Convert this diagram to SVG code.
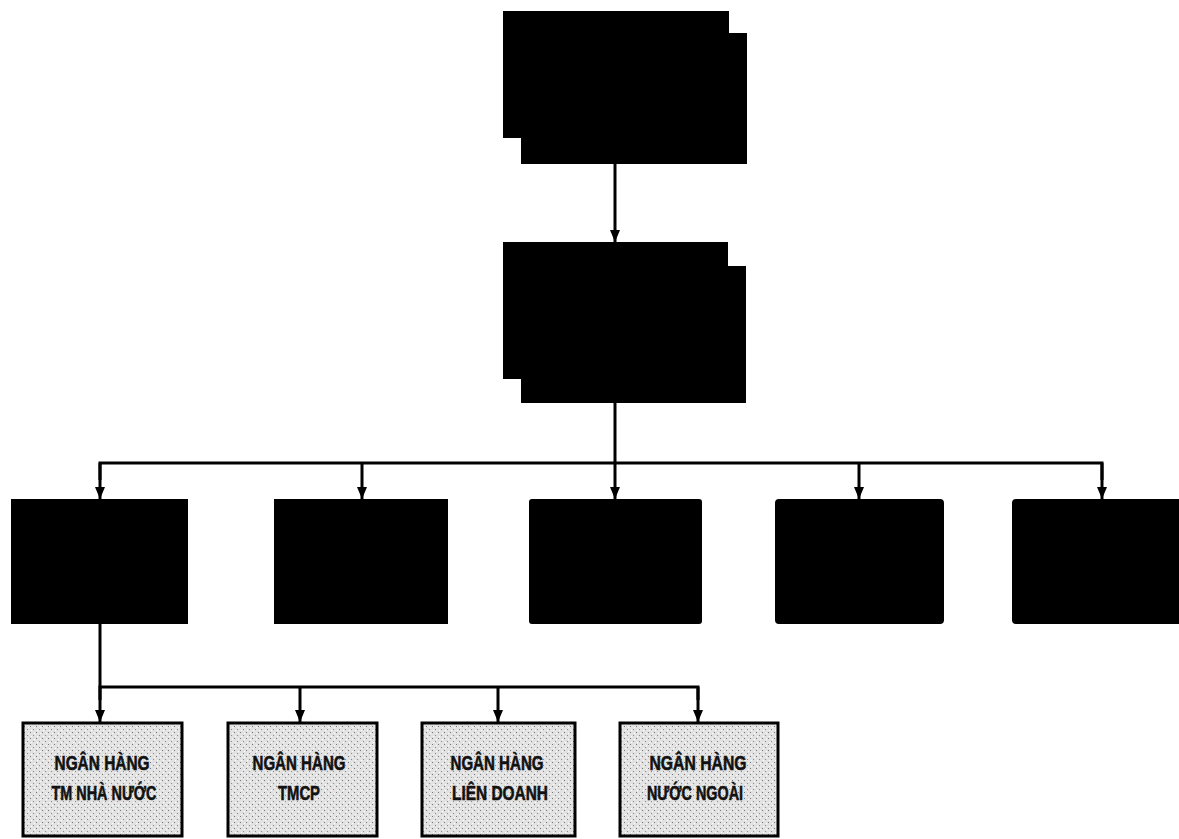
<svg xmlns="http://www.w3.org/2000/svg" width="1179" height="839" viewBox="0 0 1179 839">
<defs>
<marker id="arr" viewBox="0 0 12 10" refX="12" refY="5" markerWidth="12" markerHeight="10" markerUnits="userSpaceOnUse" orient="auto">
<path d="M0,0 L12,5 L0,10 Z" fill="#000"/>
</marker>
<pattern id="dots" width="6" height="6" patternUnits="userSpaceOnUse">
<rect width="6" height="6" fill="#e2e2e2"/>
<rect x="0" y="0" width="1" height="1" fill="#777"/>
<rect x="3" y="3" width="1" height="1" fill="#888"/>
<rect x="4" y="1" width="1" height="1" fill="#fff"/>
<rect x="1" y="4" width="1" height="1" fill="#fff"/>
</pattern>
</defs>
<style>
.blk{fill:#000;stroke:#000;stroke-width:2}
.gry{fill:url(#dots);stroke:#000;stroke-width:3}
.ln{fill:none;stroke:#000;stroke-width:3}
.lbl{font-family:"Liberation Sans",Arial,sans-serif;font-weight:bold;font-size:21px;fill:#111;text-anchor:middle;stroke:#111;stroke-width:0.6}
</style>
<rect width="1179" height="839" fill="#fff"/>
<g id="connectors">
<line class="ln" x1="615" y1="163" x2="615" y2="242" marker-end="url(#arr)"/>
<line class="ln" x1="615" y1="402" x2="615" y2="499" marker-end="url(#arr)"/>
<polyline class="ln" points="100,480 100,463 1102,463 1102,480"/>
<line class="ln" x1="100" y1="463" x2="100" y2="499" marker-end="url(#arr)"/>
<line class="ln" x1="362" y1="463" x2="362" y2="499" marker-end="url(#arr)"/>
<line class="ln" x1="859" y1="463" x2="859" y2="499" marker-end="url(#arr)"/>
<line class="ln" x1="1102" y1="463" x2="1102" y2="499" marker-end="url(#arr)"/>
<line class="ln" x1="100" y1="623" x2="100" y2="687"/>
<polyline class="ln" points="100,700 100,687 698,687 698,700"/>
<line class="ln" x1="100" y1="687" x2="100" y2="722" marker-end="url(#arr)"/>
<line class="ln" x1="300" y1="687" x2="300" y2="722" marker-end="url(#arr)"/>
<line class="ln" x1="498" y1="687" x2="498" y2="722" marker-end="url(#arr)"/>
<line class="ln" x1="698" y1="687" x2="698" y2="722" marker-end="url(#arr)"/>
</g>
<g id="node-top">
<rect class="blk" x="522" y="34" width="224" height="129"/>
<rect class="blk" x="504" y="12" width="224" height="125"/>
</g>
<g id="node-second">
<rect class="blk" x="522" y="267" width="223" height="135"/>
<rect class="blk" x="504" y="243" width="223" height="135"/>
</g>
<g id="node-r1"><rect class="blk" x="12" y="500" width="175" height="123"/></g>
<g id="node-r2"><rect class="blk" x="275" y="500" width="172" height="123"/></g>
<g id="node-r3"><rect class="blk" x="530" y="500" width="171" height="123" rx="2"/></g>
<g id="node-r4"><rect class="blk" x="776" y="500" width="167" height="123" rx="3"/></g>
<g id="node-r5"><rect class="blk" x="1013" y="500" width="170" height="123" rx="3"/></g>
<g id="node-b1">
<rect class="gry" x="23" y="723" width="159" height="113"/>
<text class="lbl" x="102" y="770" textLength="95" lengthAdjust="spacingAndGlyphs">NGÂN HÀNG</text>
<text class="lbl" x="104" y="800" textLength="105" lengthAdjust="spacingAndGlyphs">TM NHÀ NƯỚC</text>
</g>
<g id="node-b2">
<rect class="gry" x="228" y="723" width="149" height="113"/>
<text class="lbl" x="299" y="770" textLength="93" lengthAdjust="spacingAndGlyphs">NGÂN HÀNG</text>
<text class="lbl" x="299" y="800" textLength="42" lengthAdjust="spacingAndGlyphs">TMCP</text>
</g>
<g id="node-b3">
<rect class="gry" x="422" y="723" width="153" height="113"/>
<text class="lbl" x="497" y="770" textLength="93" lengthAdjust="spacingAndGlyphs">NGÂN HÀNG</text>
<text class="lbl" x="500" y="800" textLength="96" lengthAdjust="spacingAndGlyphs">LIÊN DOANH</text>
</g>
<g id="node-b4">
<rect class="gry" x="620" y="723" width="158" height="113"/>
<text class="lbl" x="698" y="770" textLength="97" lengthAdjust="spacingAndGlyphs">NGÂN HÀNG</text>
<text class="lbl" x="695" y="800" textLength="96" lengthAdjust="spacingAndGlyphs">NƯỚC NGOÀI</text>
</g>
</svg>
